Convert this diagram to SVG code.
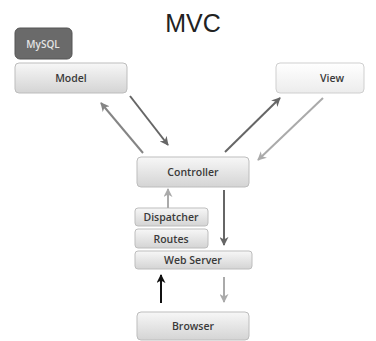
<svg xmlns="http://www.w3.org/2000/svg" width="376" height="341" viewBox="0 0 376 341">
<defs>
<linearGradient id="g" x1="0" y1="0" x2="0" y2="1">
<stop offset="0" stop-color="#f7f7f7"/>
<stop offset="1" stop-color="#d4d4d4"/>
</linearGradient>
<linearGradient id="gv" x1="0" y1="0" x2="0" y2="1">
<stop offset="0" stop-color="#ffffff"/>
<stop offset="1" stop-color="#ececec"/>
</linearGradient>
<marker id="ad" viewBox="0 0 10 10" refX="9" refY="5" markerWidth="4.5" markerHeight="4.5" orient="auto" markerUnits="strokeWidth"><path d="M0,0 L10,5 L0,10 L3,5 z" fill="#666"/></marker>
<marker id="am" viewBox="0 0 10 10" refX="9" refY="5" markerWidth="4.5" markerHeight="4.5" orient="auto" markerUnits="strokeWidth"><path d="M0,0 L10,5 L0,10 L3,5 z" fill="#858585"/></marker>
<marker id="al" viewBox="0 0 10 10" refX="9" refY="5" markerWidth="4.5" markerHeight="4.5" orient="auto" markerUnits="strokeWidth"><path d="M0,0 L10,5 L0,10 L3,5 z" fill="#aaa"/></marker>
<marker id="ab" viewBox="0 0 10 10" refX="9" refY="5" markerWidth="4.5" markerHeight="4.5" orient="auto" markerUnits="strokeWidth"><path d="M0,0 L10,5 L0,10 L3,5 z" fill="#111"/></marker>
</defs>
<style>
.box{fill:url(#g);stroke:#bdbdbd;stroke-width:1}
.t{font-family:"Open Sans","Liberation Sans",sans-serif;font-size:10.5px;font-weight:600;fill:#3a3a3a;text-anchor:middle;dominant-baseline:central}
.s{font-size:10px}
.c{fill:none;stroke-width:2}
</style>
<text x="193" y="32" font-family="'Liberation Sans',Arial,sans-serif" font-size="25" fill="#222" text-anchor="middle">MVC</text>
<g id="mysql"><rect x="15" y="28" width="57" height="31" rx="5" fill="#6a6a6a" stroke="#555"/><text class="t s" x="43" y="44" style="fill:#e4e4e4">MySQL</text></g>
<g id="model"><rect class="box" x="15" y="63" width="112" height="30" rx="4"/><text class="t" x="71" y="78">Model</text></g>
<g id="view"><rect x="276" y="63" width="88" height="30" rx="4" fill="url(#gv)" stroke="#cfcfcf"/><text class="t" x="332" y="78">View</text></g>
<g id="controller"><rect class="box" x="137" y="157" width="112" height="30" rx="4"/><text class="t" x="193" y="172">Controller</text></g>
<g id="dispatcher"><rect class="box" x="135" y="208" width="73" height="18" rx="3"/><text class="t" x="171" y="217">Dispatcher</text></g>
<g id="routes"><rect class="box" x="135" y="229" width="73" height="19" rx="3"/><text class="t" x="171" y="239">Routes</text></g>
<g id="webserver"><rect class="box" x="135" y="251" width="117" height="18" rx="3"/><text class="t" x="193" y="260">Web Server</text></g>
<g id="browser"><rect class="box" x="137" y="312" width="112" height="28" rx="4"/><text class="t" x="193" y="326">Browser</text></g>
<g id="connectors">
<line class="c" x1="130" y1="96" x2="168" y2="145" stroke="#666" marker-end="url(#ad)"/>
<line class="c" x1="143" y1="153" x2="101" y2="103" stroke="#858585" marker-end="url(#am)"/>
<line class="c" x1="225" y1="152" x2="280" y2="98" stroke="#666" marker-end="url(#ad)"/>
<line class="c" x1="323" y1="98" x2="258" y2="160" stroke="#aaa" marker-end="url(#al)"/>
<line class="c" x1="168" y1="208" x2="168" y2="189" stroke="#aaa" marker-end="url(#al)"/>
<line class="c" x1="224" y1="190" x2="224" y2="245" stroke="#666" marker-end="url(#ad)"/>
<line class="c" x1="161" y1="303" x2="161" y2="275" stroke="#111" marker-end="url(#ab)"/>
<line class="c" x1="224" y1="277" x2="224" y2="302" stroke="#aaa" marker-end="url(#al)"/>
</g>
</svg>
